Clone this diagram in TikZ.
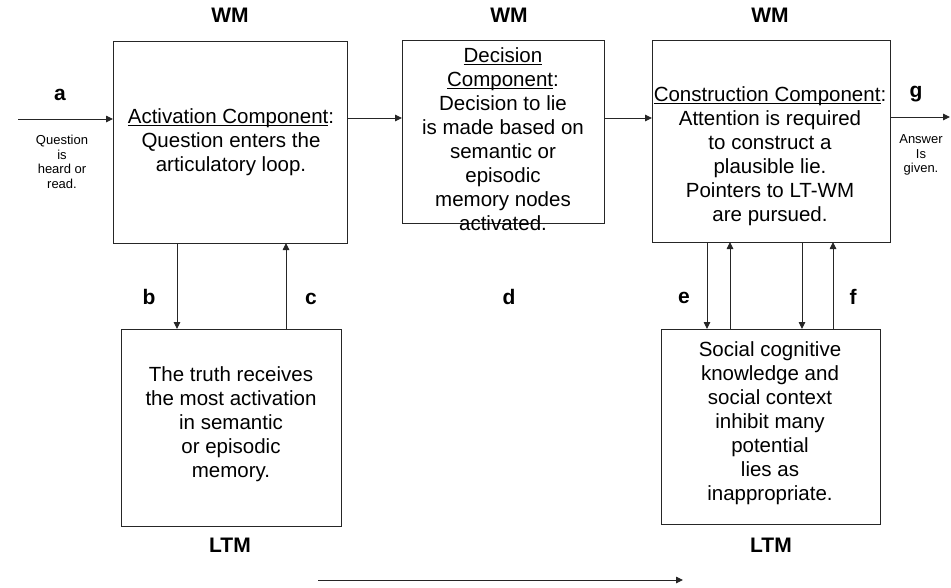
\documentclass[tikz,border=0pt]{standalone}
\usepackage{fontspec}
\setmainfont{Liberation Sans}
\usetikzlibrary{arrows.meta}
\newcommand{\ulbox}[1]{\underbar{#1}}
\begin{document}
\begin{tikzpicture}[x=1pt,y=-1pt,
  box/.style={draw=black!85,line width=1pt,inner sep=0pt,outer sep=0pt},
  txt/.style={align=center,inner sep=0pt,font=\fontsize{20.5}{24}\selectfont},
  small/.style={align=center,inner sep=0pt,font=\fontsize{13}{14.5}\selectfont},
  lab/.style={inner sep=0pt,anchor=base,font=\fontsize{21}{24}\selectfont\bfseries},
  arr/.style={draw=black!85,line width=0.9pt,-{Triangle[length=7pt,width=6.5pt]}}]
\useasboundingbox (0,0) rectangle (951,587);
% boxes
\node[box,minimum width=234pt,minimum height=202pt] (act) at (230,142) {};
\node[box,minimum width=202pt,minimum height=183pt] (dec) at (503,131.5) {};
\node[box,minimum width=238pt,minimum height=202pt] (con) at (771,141) {};
\node[box,minimum width=220pt,minimum height=197pt] (ltma) at (231,427.5) {};
\node[box,minimum width=219pt,minimum height=195pt] (ltmb) at (770.5,426.5) {};
% box texts
\node[txt] (acttxt) at (231,142) {\ulbox{Activation Component}:\\Question enters the\\articulatory loop.};
\node[txt] (dectxt) at (503,139) {\ulbox{Decision}\\\ulbox{Component}:\\Decision to lie\\is made based on\\semantic or\\episodic\\memory nodes\\activated.};
\node[txt] (contxt) at (770,156) {\ulbox{Construction Component}:\\Attention is required\\to construct a\\plausible lie.\\Pointers to LT-WM\\are pursued.};
\node[txt] (ltmatxt) at (231,424) {The truth receives\\the most activation\\in semantic\\or episodic\\memory.};
\node[txt] (ltmbtxt) at (770,423) {Social cognitive\\knowledge and\\social context\\inhibit many\\potential\\lies as\\inappropriate.};
% labels
\node[lab] (wm1) at (230,22.5) {WM};
\node[lab] (wm2) at (509,22.5) {WM};
\node[lab] (wm3) at (770,22.5) {WM};
\node[lab] (ltm1) at (230,552.5) {LTM};
\node[lab] (ltm2) at (771,552.5) {LTM};
\node[lab] (la) at (60,100) {a};
\node[lab] (lg) at (916,97) {g};
\node[lab] (lb) at (149,304) {b};
\node[lab] (lc) at (311,304) {c};
\node[lab] (ld) at (509,304) {d};
\node[lab] (le) at (684,303) {e};
\node[lab] (lf) at (853,304) {f};
\node[small] (qtxt) at (62,162) {Question\\is\\heard or\\read.};
\node[small] (atxt) at (921,155) {Answer\\Is\\given.};
% connectors
\coordinate (ain) at (18,119);
\coordinate (gout) at (950,117);
\draw[arr] (ain) -- (act.west |- ain);
\draw[arr] (act.east |- 0,118) -- (dec.west |- 0,118);
\draw[arr] (dec.east |- 0,118) -- (con.west |- 0,118);
\draw[arr] (con.east |- gout) -- (gout);
\draw[arr] (act.south -| 177,0) -- (ltma.north -| 177,0);
\draw[arr] (ltma.north -| 286,0) -- (act.south -| 286,0);
\draw[arr] (con.south -| 707,0) -- (ltmb.north -| 707,0);
\draw[arr] (ltmb.north -| 730,0) -- (con.south -| 730,0);
\draw[arr] (con.south -| 802,0) -- (ltmb.north -| 802,0);
\draw[arr] (ltmb.north -| 833,0) -- (con.south -| 833,0);
\coordinate (bs) at (318,580);
\coordinate (be) at (683,580);
\draw[arr] (bs) -- (be);
\end{tikzpicture}
\end{document}
